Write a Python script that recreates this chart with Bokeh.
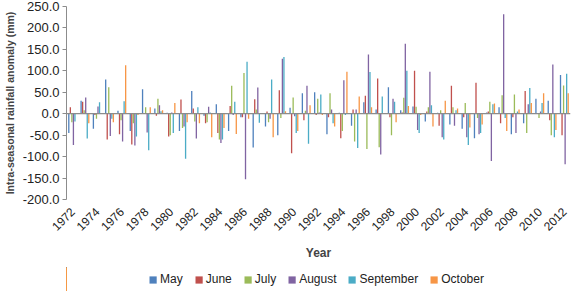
import math
from bokeh.plotting import figure
from bokeh.layouts import column
from bokeh.models import (ColumnDataSource, Span, FixedTicker, SingleIntervalTicker,
                          NumeralTickFormatter, Legend, LegendItem, Range1d)
from bokeh.transform import dodge
from bokeh.embed import file_html
from bokeh.resources import INLINE

years = list(range(1972, 2013))
tick_years = list(range(1972, 2013, 2))
months = ["May", "June", "July", "August", "September", "October"]
colors = ["#4F81BD", "#C0504D", "#9BBB59", "#8064A2", "#4BACC6", "#F79646"]

may = [-45, 30, -35, 80, 7, -40, 57, 12, 2, -40, 53, -5, 22, -40, -8, -79, -30, -50, 14, 48,
       50, -48, 2, -28, 27, 10, 62, 8, 17, -18, 2, -25, -35, -57, 3, 15, -48, -22, 35, 30, 90]
june = [15, 28, -3, -60, -48, -72, 0, -5, -53, 33, 12, -22, -45, 18, -8, 34, 5, 55, -92, -15,
        -3, -8, -57, 10, 42, 82, -8, 3, 100, 5, -28, 65, -8, 72, 5, -22, -8, 53, 0, -15, -50]
july = [-20, 8, -12, 62, -15, -22, 15, 35, -50, -33, -18, -20, -60, 65, 95, 10, -20, -10, 38, 7,
        35, 48, -40, -65, -82, -78, -50, 37, 16, 15, 8, 15, 25, -10, 28, 43, 45, -45, -10, -50, 66]
august = [-73, 38, 17, -52, -65, -74, -44, 20, 3, -30, -58, 16, -68, -3, -153, 61, -12, 128, -6, 65,
          3, 10, 78, 10, 138, -95, 35, 163, -38, 98, -55, -28, -55, -48, -110, 232, -45, 22, 5, 115, -118]
september = [-18, -58, 27, -12, 29, -53, -85, 6, -45, -105, 15, 3, -60, 28, 121, -21, 80, 132, -45, -70,
             45, -22, -3, -80, 97, 40, 28, 100, -45, 20, -60, 8, -73, -45, 22, -10, 5, 60, 25, -55, 93]
october = [0, -22, 0, -20, 113, -3, 15, 8, 25, -20, -22, -55, -33, -47, -12, 0, -55, 6, -40, 20,
           -3, -30, 98, 40, 15, 0, -20, 18, -3, -30, 30, 12, -32, -25, 24, -40, 10, 25, 48, -38, 48]

src = ColumnDataSource(dict(year=years, May=may, June=june, July=july, August=august,
                            September=september, October=october))

p = figure(frame_width=504, frame_height=193, output_backend="svg", toolbar_location=None,
           x_range=Range1d(1971.5, 2012.5), y_range=Range1d(-200, 250),
           min_border_left=62, min_border_right=2, min_border_top=6, min_border_bottom=68)

p.outline_line_color = None
p.xgrid.grid_line_color = None
p.ygrid.grid_line_color = None
p.background_fill_color = "white"

bw = 0.125
for i, (m, c) in enumerate(zip(months, colors)):
    off = (i - 2.5) * bw
    p.vbar(x=dodge("year", off), top=m, bottom=0, width=bw * 0.85, source=src,
           fill_color=c, line_color=None)

zero = Span(location=0, dimension="width", line_color="#8C8C8C", line_width=1.2)
p.add_layout(zero)

# y axis
p.yaxis.ticker = SingleIntervalTicker(interval=50)
p.yaxis.formatter = NumeralTickFormatter(format="0.0")
p.yaxis.axis_label = "Intra-seasonal rainfall anomaly (mm)"
p.yaxis.axis_label_text_font = "Liberation Sans"
p.yaxis.axis_label_text_font_style = "bold"
p.yaxis.axis_label_text_font_size = "10.5px"
p.yaxis.axis_label_standoff = 4
p.yaxis.major_label_text_font = "Liberation Sans"
p.yaxis.major_label_text_font_size = "13px"
p.yaxis.major_label_text_color = "#222222"
p.yaxis.major_label_standoff = 3
p.yaxis.axis_line_color = "#8C8C8C"
p.yaxis.major_tick_line_color = "#8C8C8C"
p.yaxis.major_tick_in = 0
p.yaxis.major_tick_out = 4
p.yaxis.minor_tick_line_color = None

# x axis
p.xaxis.ticker = FixedTicker(ticks=tick_years)
p.xaxis.major_label_orientation = math.pi / 4
p.xaxis.major_label_text_font = "Liberation Sans"
p.xaxis.major_label_text_font_size = "12px"
p.xaxis.major_label_text_color = "#222222"
p.xaxis.axis_line_color = None
p.xaxis.major_tick_line_color = None
p.xaxis.minor_tick_line_color = None
p.xaxis.major_label_standoff = 4
p.xaxis.axis_label = "Year"
p.xaxis.axis_label_text_font = "Liberation Sans"
p.xaxis.axis_label_text_font_style = "bold"
p.xaxis.axis_label_text_font_size = "12px"
p.xaxis.axis_label_standoff = 8

# legend in its own strip (renderers share the data but lie outside this strip's range)
lf = figure(width=568, height=24, output_backend="svg", toolbar_location=None,
            x_range=Range1d(2020, 2030), y_range=Range1d(0, 1),
            min_border_left=0, min_border_right=0, min_border_top=0, min_border_bottom=0)
lf.axis.visible = False
lf.grid.grid_line_color = None
lf.outline_line_color = None
items = []
for m, c in zip(months, colors):
    r = lf.vbar(x="year", top=m, bottom=0, width=0.1, source=src, fill_color=c, line_color=None)
    items.append(LegendItem(label=m, renderers=[r]))

legend = Legend(items=items, orientation="horizontal", location="center")
legend.label_text_font = "Liberation Sans"
legend.label_text_font_size = "12px"
legend.label_text_color = "#222222"
legend.glyph_width = 9
legend.glyph_height = 9
legend.spacing = 11
legend.label_standoff = 3
legend.padding = 2
legend.margin = 0
legend.border_line_color = None
legend.background_fill_alpha = 0
lf.add_layout(legend, "center")

layout = column(p, lf, spacing=0)
open("out.html", "w").write(file_html(layout, INLINE))
